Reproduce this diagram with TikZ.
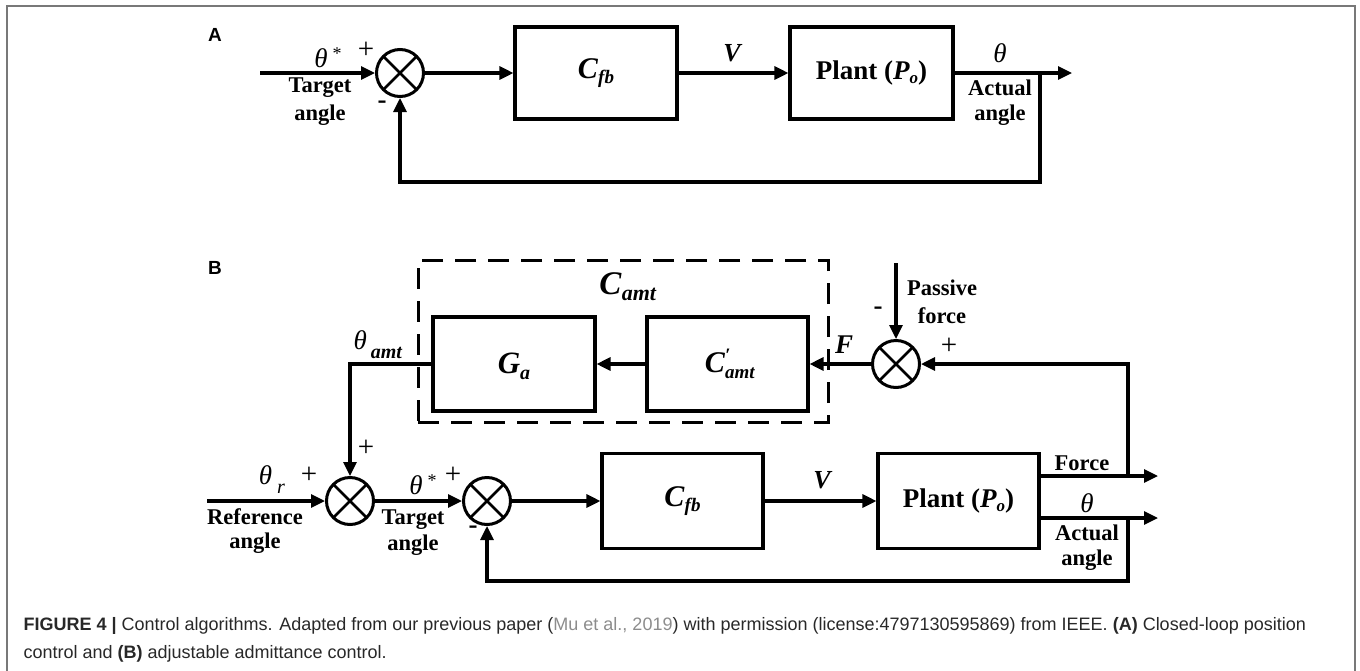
\documentclass[tikz,border=0pt]{standalone}
\usepackage{fontspec}
\setmainfont{Liberation Serif}
\newfontfamily\capfont{Liberation Sans}
\usetikzlibrary{arrows.meta}
\newcommand\fs[1]{\fontsize{#1}{#1}\selectfont}
\newcommand\bi[1]{\textbf{\textit{#1}}}
\definecolor{framegray}{RGB}{120,120,120}
\definecolor{linkgray}{RGB}{140,140,140}
\definecolor{captext}{RGB}{40,40,40}
\begin{document}
\begin{tikzpicture}[x=1pt,y=-1pt,line width=3.1pt,
  blk/.style={draw,rectangle,inner sep=0pt,line width=3.1pt},
  sumc/.style={draw,circle,minimum size=47pt,inner sep=0pt,line width=3pt,
    path picture={\draw[line width=2.8pt]
      (path picture bounding box.north west)--(path picture bounding box.south east)
      (path picture bounding box.north east)--(path picture bounding box.south west);}},
  arr/.style={-{Triangle[length=14pt,width=13pt]}},
  lbl/.style={inner sep=0pt,font=\fs{22.5}\bfseries},
  sym/.style={inner sep=0pt},
  panel/.style={inner sep=0pt,font=\capfont\fs{19}\bfseries},
  captxt/.style={inner sep=0pt,anchor=west,text=captext,font=\capfont\fs{18}}
]
\useasboundingbox (0,0) rectangle (1360,670);
\draw[framegray,line width=1.5pt] (7,675) -- (7,6) -- (1355,6) -- (1355,675);

% ---------------- Panel A ----------------
\node[panel] (labA) at (215,35) {A};
\coordinate (inA) at (260,73);
\node[sumc] (sA) at (400,73) {};
\node[blk,minimum width=162pt,minimum height=92pt] (CfbA) at (596,73) {};
\node[blk,minimum width=163pt,minimum height=92pt] (PlantA) at (871.5,73) {};
\coordinate (brA) at (1040,73);
\coordinate (outA) at (1072,73);
\coordinate (fbA) at (1040,182);

\draw[arr] (inA) -- (sA.west);
\draw[arr] (sA.east) -- (CfbA.west);
\draw[arr] (CfbA.east) -- (PlantA.west);
\draw[arr] (PlantA.east) -- (outA);
\draw[arr] (brA) -- (fbA) -| (sA.south);

\node[sym] (thA) at (328,58) {\fs{27}\textit{θ}\hspace{5pt}\raisebox{8pt}{\fs{18}*}};
\node[sym] (plA) at (366,50) {\fs{29}+};
\node[lbl] (tgA1) at (320,88) {Target};
\node[lbl] (tgA2) at (320,115) {angle};
\node[sym] (mnA) at (382,105) {\fs{27}\bfseries -};
\node[sym] (cfA) at (596,73) {\fs{30}\bi{C}\raisebox{-5pt}{\fs{19}\bi{fb}}};
\node[sym] (vA) at (733,53) {\fs{26}\bi{V}};
\node[sym] (ptA) at (871.5,73) {\fs{27}\bfseries Plant (\bi{P}\raisebox{-4pt}{\fs{17}\bi{o}})};
\node[sym] (thoA) at (1000,53) {\fs{27}\textit{θ}};
\node[lbl] (acA1) at (1000,88) {Actual};
\node[lbl] (acA2) at (1000,115) {angle};

% ---------------- Panel B ----------------
\node[panel] (labB) at (215,268) {B};
\node[draw,rectangle,dash pattern=on 21pt off 12pt,line width=3pt,inner sep=0pt,
  minimum width=410pt,minimum height=162pt] (Camt) at (623,341) {};
\node[sym] (camtl) at (628,287) {\fs{33}\bi{C}\raisebox{-6pt}{\fs{22}\bi{amt}}};
\node[blk,minimum width=162pt,minimum height=94pt] (Ga) at (514,364) {};
\node[sym] (gal) at (514,366) {\fs{31}\bi{G}\raisebox{-6pt}{\fs{20}\bi{a}}};
\node[blk,minimum width=161pt,minimum height=94pt] (Cp) at (727.5,364) {};
\node[sym] (cpl) at (730,364) {\fs{30}\bi{C}\raisebox{-6pt}{\fs{19}\rlap{\raisebox{17pt}{\bi{\char"2032}}}\bi{amt}}};
\node[sumc] (sF) at (896,364) {};
\coordinate (pfin) at (896,263);
\coordinate (thamt) at (350,364);

\coordinate (inB) at (207,501);
\node[sumc] (sR) at (350,501) {};
\node[sumc] (sT) at (487,501) {};
\node[blk,minimum width=161pt,minimum height=95pt] (CfbB) at (682.5,501) {};
\node[blk,minimum width=161pt,minimum height=95pt] (PlantB) at (958.5,501) {};
\coordinate (pfo) at (1039,476);
\coordinate (pto) at (1039,518);
\coordinate (brF) at (1128,476);
\coordinate (brT) at (1128,518);
\coordinate (outF) at (1158,476);
\coordinate (outT) at (1158,518);
\coordinate (fbB) at (1128,581);

\draw[arr] (pfin) -- (sF.north);
\draw[arr] (sF.west) -- (Cp.east);
\draw[arr] (Cp.west) -- (Ga.east);
\draw[arr] (Ga.west) -- (thamt) -- (sR.north);
\draw[arr] (inB) -- (sR.west);
\draw[arr] (sR.east) -- (sT.west);
\draw[arr] (sT.east) -- (CfbB.west);
\draw[arr] (CfbB.east) -- (PlantB.west);
\draw[arr] (pfo) -- (outF);
\draw[arr] (pto) -- (outT);
\draw[arr] (brF) |- (sF.east);
\draw[arr] (brT) -- (fbB) -| (sT.south);

\node[sym] (thamtl) at (378,345) {\fs{27}\textit{θ}\hspace{4pt}\raisebox{-9pt}{\fs{20}\bi{amt}}};
\node[sym] (Fl) at (844,345) {\fs{27}\bi{F}};
\node[lbl] (pf1) at (942,288) {Passive};
\node[lbl] (pf2) at (942,316) {force};
\node[sym] (mnF) at (878,311) {\fs{27}\bfseries -};
\node[sym] (plF) at (949,346) {\fs{29}+};

\node[sym] (thr) at (272,480) {\fs{27}\textit{θ}\hspace{5pt}\raisebox{-9pt}{\fs{20}\textit{r}}};
\node[sym] (plR) at (309,475) {\fs{29}+};
\node[sym] (plR2) at (366,448) {\fs{29}+};
\node[lbl] (rf1) at (255,517) {Reference};
\node[lbl] (rf2) at (255,543) {angle};
\node[sym] (thsB) at (423,485) {\fs{27}\textit{θ}\hspace{5pt}\raisebox{8pt}{\fs{18}*}};
\node[sym] (plT) at (453,475) {\fs{29}+};
\node[lbl] (tg1) at (413,520) {Target};
\node[lbl] (tg2) at (413,545) {angle};
\node[sym] (mnT) at (473,530) {\fs{27}\bfseries -};
\node[sym] (cfB) at (682.5,501) {\fs{30}\bi{C}\raisebox{-5pt}{\fs{19}\bi{fb}}};
\node[sym] (vB) at (823,480) {\fs{26}\bi{V}};
\node[sym] (ptB) at (958.5,501) {\fs{27}\bfseries Plant (\bi{P}\raisebox{-4pt}{\fs{17}\bi{o}})};
\node[lbl] (frc) at (1082,463) {Force};
\node[sym] (thoB) at (1087,503) {\fs{27}\textit{θ}};
\node[lbl] (acB1) at (1087,533) {Actual};
\node[lbl] (acB2) at (1087,560) {angle};

% ---------------- Caption ----------------
\node[captxt] (cap1) at (22,626) {\textbf{FIGURE 4 |} Control algorithms. Adapted from our previous paper (\textcolor{linkgray}{Mu et al., 2019}) with permission (license:4797130595869) from IEEE. \textbf{(A)} Closed-loop position};
\node[captxt] (cap2) at (22,654) {control and \textbf{(B)} adjustable admittance control.};
\end{tikzpicture}
\end{document}
